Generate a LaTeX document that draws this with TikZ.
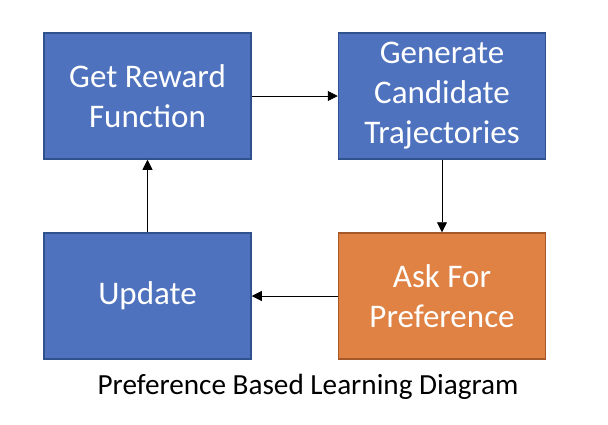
\documentclass[tikz,border=0pt]{standalone}
\usepackage{fontspec}
\setmainfont{Carlito}
\usetikzlibrary{arrows.meta}
\definecolor{boxblue}{HTML}{4F72BE}
\definecolor{boxblueline}{HTML}{2F528F}
\definecolor{boxorange}{HTML}{DF8244}
\definecolor{boxorangeline}{HTML}{A5592A}
\tikzset{
  procbox/.style={draw=boxblueline, fill=boxblue, line width=1.5pt, minimum width=207pt, minimum height=126pt,
    text=white, align=center, inner sep=0pt, font=\fontsize{33}{40}\selectfont},
  askbox/.style={procbox, draw=boxorangeline, fill=boxorange},
  flow/.style={draw=black, line width=0.8pt, -{Triangle[length=10pt,width=10pt]}}
}
\begin{document}
\begin{tikzpicture}[x=1pt,y=-1pt]
\useasboundingbox (0,0) rectangle (608,424);
\node[procbox] (reward) at (147.5,96) {Get Reward\\Function};
\node[procbox] (gen) at (442,96) {Generate\\Candidate\\Trajectories};
\node[askbox] (ask) at (442,296) {Ask For\\Preference};
\node[procbox] (upd) at (147.5,296) {Update};
\node[font=\fontsize{29.2}{33}\selectfont, text=black] (cap) at (308,386.5) {Preference Based Learning Diagram};
\draw[flow] (reward) -- (gen);
\draw[flow] (gen) -- (ask);
\draw[flow] (ask) -- (upd);
\draw[flow] (upd) -- (reward);
\end{tikzpicture}
\end{document}
